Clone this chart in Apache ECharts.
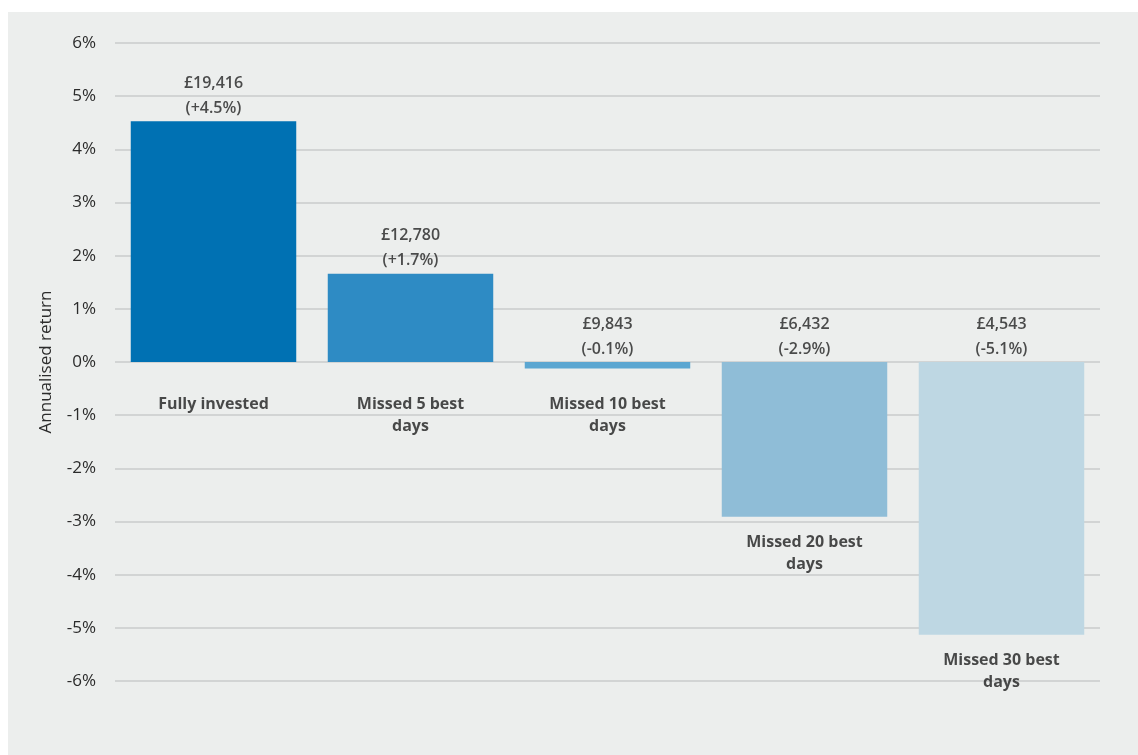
<!DOCTYPE html>
<html><head><meta charset="utf-8">
<script src="https://cdn.jsdelivr.net/npm/echarts@6/dist/echarts.min.js"></script>
<style>
html,body{margin:0;padding:0;background:#ffffff;}
#wrap{position:absolute;left:8px;top:12px;width:1130px;height:743px;background:#eceeed;}
#c{position:absolute;left:-8px;top:-12px;width:1138px;height:755px;}
</style></head>
<body><div id="wrap"><div id="c"></div></div>
<script>
const categories = ['Fully invested', 'Missed 5 best days', 'Missed 10 best days', 'Missed 20 best days', 'Missed 30 best days'];
const returns = [4.53, 1.66, -0.12, -2.91, -5.13];
const finalValues = ['£19,416', '£12,780', '£9,843', '£6,432', '£4,543'];
const returnLabels = ['+4.5%', '+1.7%', '-0.1%', '-2.9%', '-5.1%'];
const colors = ['#0071b3', '#2e8bc4', '#5ba6d1', '#8fbdd7', '#bed7e3'];
const yTicks = [-6, -5, -4, -3, -2, -1, 0, 1, 2, 3, 4, 5, 6];

const FONT = 'Open Sans';
const chart = echarts.init(document.getElementById('c'), null, {renderer: 'canvas'});

const catLabel = c => c.replace(/ days$/, '\ndays');

chart.setOption({
  backgroundColor: 'transparent',
  animation: false,
  grid: {left: 115, right: 38, top: 43, bottom: 74},
  xAxis: {
    type: 'category',
    data: categories,
    axisLine: {show: false},
    axisTick: {show: false},
    axisLabel: {show: false}
  },
  yAxis: {
    type: 'value',
    min: yTicks[0], max: yTicks[yTicks.length - 1], interval: 1,
    name: 'Annualised return',
    nameLocation: 'middle',
    nameGap: 60,
    nameTextStyle: {fontFamily: FONT, fontSize: 17, color: '#2b2b2b'},
    axisLine: {show: false},
    axisTick: {show: false},
    axisLabel: {formatter: v => v + '%', fontFamily: FONT, fontSize: 17, color: '#2b2b2b', margin: 19},
    splitLine: {lineStyle: {color: '#d2d4d4', width: 2}}
  },
  series: [
    {
      type: 'bar',
      barWidth: '84%',
      data: returns.map((v, i) => ({value: v, itemStyle: {color: colors[i]}})),
      z: 2
    },
    {
      type: 'scatter',
      symbolSize: 1,
      itemStyle: {color: 'rgba(0,0,0,0)'},
      silent: true,
      z: 5,
      data: returns.map((v, i) => ({
        value: [categories[i], Math.max(v, 0)],
        label: {
          show: true, position: 'top', distance: 0,
          formatter: finalValues[i] + '\n(' + returnLabels[i] + ')',
          fontFamily: FONT, fontSize: 16, fontWeight: 600, lineHeight: 25, color: '#222'
        }
      }))
    },
    {
      type: 'scatter',
      symbolSize: 1,
      itemStyle: {color: 'rgba(0,0,0,0)'},
      silent: true,
      z: 5,
      data: returns.map((v, i) => ({
        value: [categories[i], Math.min(v, 0)],
        label: {
          show: true, position: 'bottom',
          distance: v >= 0 ? 31 : (v > -0.5 ? 25 : 14),
          formatter: catLabel(categories[i]),
          fontFamily: FONT, fontSize: 16, fontWeight: 'bold', lineHeight: 22, color: '#1e1e1e'
        }
      }))
    }
  ]
});
</script>
</body></html>
